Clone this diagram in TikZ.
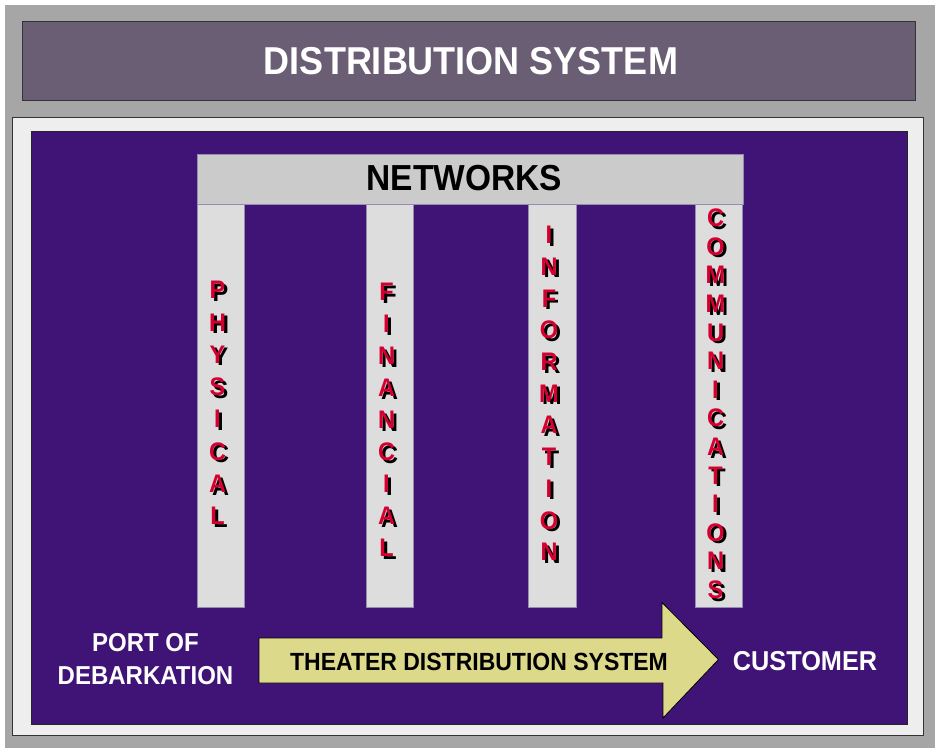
\documentclass[tikz,border=0pt]{standalone}
\usepackage{fontspec}
\setmainfont{Liberation Sans}
\definecolor{outergray}{RGB}{166,166,166}
\definecolor{titlefill}{RGB}{106,94,116}
\definecolor{panelwhite}{RGB}{238,238,238}
\definecolor{deeppurple}{RGB}{64,20,118}
\definecolor{netgray}{RGB}{203,203,203}
\definecolor{pillargray}{RGB}{221,221,221}
\definecolor{pillarline}{RGB}{150,140,178}
\definecolor{arrowfill}{RGB}{220,217,138}
\definecolor{letterred}{RGB}{214,0,48}
\newcommand{\vstretch}[1]{\scalebox{1}[1.08]{#1}}
\tikzset{
  boxnode/.style={rectangle, inner sep=0pt, outer sep=0pt},
  pillar/.style={boxnode, fill=pillargray, draw=pillarline, line width=0.8pt, minimum width=47pt, minimum height=403pt},
  ltr/.style={inner sep=0pt, font=\fontsize{23.5}{24}\selectfont\bfseries},
  redltr/.style={ltr, text=letterred},
  shadowltr/.style={ltr, text=black},
  whitetext/.style={inner sep=0pt, text=white, font=\fontsize{24}{30}\selectfont\bfseries},
}
\begin{document}
\begin{tikzpicture}[x=1pt,y=-1pt]
\useasboundingbox (0,0) rectangle (935,748);
\fill[white] (0,0) rectangle (935,748);
\fill[outergray] (5,5) rectangle (935,748);
% title
\node[boxnode, fill=titlefill, draw=black!80, line width=0.8pt, minimum width=893pt, minimum height=79pt] (titlebox) at (468.5,60.5) {};
\node[inner sep=0pt, text=white, font=\fontsize{36}{40}\selectfont\bfseries] (title) at (471,61) {\vstretch{DISTRIBUTION SYSTEM}};
% panels
\node[boxnode, fill=panelwhite, draw=black!80, line width=0.8pt, minimum width=910.5pt, minimum height=618pt] (panel) at (467.75,426) {};
\node[boxnode, fill=deeppurple, draw=black!85, line width=0.8pt, minimum width=876pt, minimum height=593pt] (purple) at (469,427.5) {};
% pillars
\node[pillar] (physical) at (220.5,405.5) {};
\node[pillar] (financial) at (389.5,405.5) {};
\node[pillar, minimum width=48pt] (information) at (552,405.5) {};
\node[pillar] (communications) at (718.5,405.5) {};
% networks bar
\node[boxnode, fill=netgray, draw=pillarline, line width=0.6pt, minimum width=546pt, minimum height=50pt] (networks) at (470,179) {};
\node[inner sep=0pt, text=black, font=\fontsize{33.5}{36}\selectfont\bfseries] (networkstext) at (464.5,178.5) {\vstretch{NETWORKS}};
% vertical letters
\foreach \ch [count=\i from 0] in {P,H,Y,S,I,C,A,L} {
  \node[shadowltr] (phys-s\i) at (217.5+3,290+\i*32.3+2.5) {\vstretch{\ch}};
  \node[redltr] (phys-\i) at (217.5,290+\i*32.3) {\vstretch{\ch}};
}
\foreach \ch [count=\i from 0] in {F,I,N,A,N,C,I,A,L} {
  \node[shadowltr] (fin-s\i) at (386.5+3,292+\i*32+2.5) {\vstretch{\ch}};
  \node[redltr] (fin-\i) at (386.5,292+\i*32) {\vstretch{\ch}};
}
\foreach \ch [count=\i from 0] in {I,N,F,O,R,M,A,T,I,O,N} {
  \node[shadowltr] (info-s\i) at (549+3,235+\i*31.7+2.5) {\vstretch{\ch}};
  \node[redltr] (info-\i) at (549,235+\i*31.7) {\vstretch{\ch}};
}
\foreach \ch [count=\i from 0] in {C,O,M,M,U,N,I,C,A,T,I,O,N,S} {
  \node[shadowltr] (comm-s\i) at (715.5+3,218+\i*28.6+2.5) {\vstretch{\ch}};
  \node[redltr] (comm-\i) at (715.5,218+\i*28.6) {\vstretch{\ch}};
}
% arrow
\draw[fill=arrowfill, draw=black, line width=0.8pt, line join=miter]
  (259,638) -- (662,638) -- (662,602.5) -- (718.5,659.5) -- (663,718) -- (663,683) -- (259,683) -- cycle;
\node[inner sep=0pt, text=black, font=\fontsize{23}{26}\selectfont\bfseries] (theater) at (479,661.5) {\vstretch{THEATER DISTRIBUTION SYSTEM}};
% end labels
\node[whitetext] (port) at (145.5,661.5) {\vstretch{\begin{tabular}{@{}c@{}}PORT OF\\DEBARKATION\end{tabular}}};
\node[whitetext, font=\fontsize{25.3}{30}\selectfont\bfseries] (customer) at (805,661.3) {\vstretch{CUSTOMER}};
\end{tikzpicture}
\end{document}
